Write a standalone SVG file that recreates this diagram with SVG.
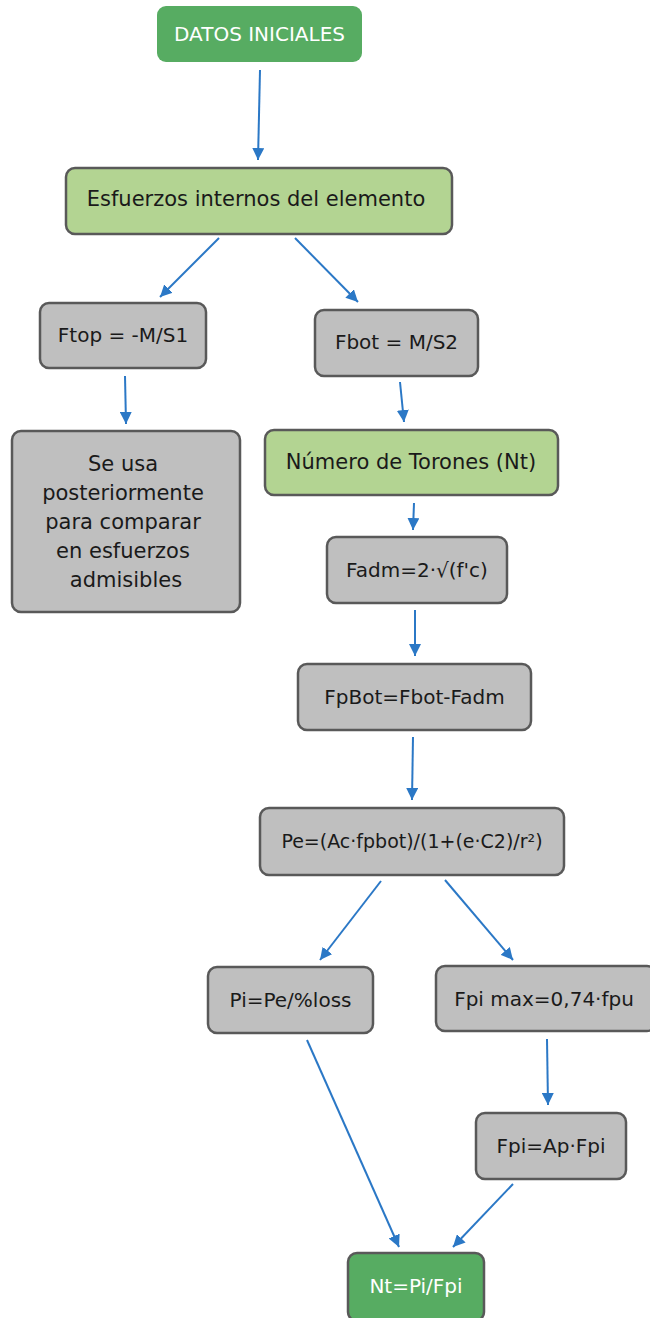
<svg xmlns="http://www.w3.org/2000/svg" width="650" height="1318" viewBox="0 0 650 1318">
  <style>
    .box { stroke: #595959; stroke-width: 2.5; }
    .gray { fill: #BFBFBF; }
    .lime { fill: #B3D492; }
    .green { fill: #57AC62; }
    .lbl { font-family: "DejaVu Sans", "Open Sans", sans-serif; font-size: 20px; fill: #1A1A1A; text-anchor: middle; }
    .big { font-size: 21px; }
    .wlbl { font-family: "DejaVu Sans", "Open Sans", sans-serif; font-size: 20px; fill: #FFFFFF; text-anchor: middle; }
    .edge { stroke: #2B78C6; stroke-width: 2; fill: none; marker-end: url(#arrow); }
  </style>
  <defs>
    <marker id="arrow" viewBox="0 0 10 10" refX="10" refY="5" markerWidth="6" markerHeight="6" orient="auto" markerUnits="strokeWidth">
      <path d="M0,0 L10,5 L0,10 z" fill="#2B78C6"/>
    </marker>
  </defs>
  <rect width="650" height="1318" fill="#FFFFFF"/>

  <g id="connectors">
    <line class="edge" x1="260" y1="70" x2="258" y2="160"/>
    <line class="edge" x1="219" y1="238" x2="160" y2="297"/>
    <line class="edge" x1="295" y1="238" x2="358" y2="302"/>
    <line class="edge" x1="125" y1="376" x2="126" y2="424"/>
    <line class="edge" x1="400" y1="382" x2="404" y2="422"/>
    <line class="edge" x1="414" y1="503" x2="413" y2="530"/>
    <line class="edge" x1="415" y1="610" x2="415" y2="656"/>
    <line class="edge" x1="413" y1="737" x2="412" y2="800"/>
    <line class="edge" x1="381" y1="881" x2="320" y2="960"/>
    <line class="edge" x1="445" y1="880" x2="513" y2="960"/>
    <line class="edge" x1="547" y1="1039" x2="548" y2="1105"/>
    <line class="edge" x1="307" y1="1040" x2="399" y2="1247"/>
    <line class="edge" x1="513" y1="1184" x2="453" y2="1247"/>
  </g>

  <g id="datos-iniciales">
    <rect class="green" x="157" y="6" width="205" height="56" rx="9"/>
    <text class="wlbl" x="259.5" y="41">DATOS INICIALES</text>
  </g>

  <g id="esfuerzos-internos">
    <rect class="box lime" x="66" y="168" width="386" height="66" rx="9"/>
    <text class="lbl big" x="256" y="206">Esfuerzos internos del elemento</text>
  </g>

  <g id="ftop">
    <rect class="box gray" x="40" y="303" width="166" height="65" rx="9"/>
    <text class="lbl" x="123" y="342">Ftop = -M/S1</text>
  </g>

  <g id="fbot">
    <rect class="box gray" x="315" y="310" width="163" height="66" rx="9"/>
    <text class="lbl" x="396.5" y="349">Fbot = M/S2</text>
  </g>

  <g id="se-usa">
    <rect class="box gray" x="12" y="431" width="228" height="181" rx="9"/>
    <text class="lbl big" x="123" y="471">Se usa</text>
    <text class="lbl big" x="123" y="500">posteriormente</text>
    <text class="lbl big" x="123" y="529">para comparar</text>
    <text class="lbl big" x="123" y="558">en esfuerzos</text>
    <text class="lbl big" x="126" y="587">admisibles</text>
  </g>

  <g id="numero-torones">
    <rect class="box lime" x="265" y="430" width="293" height="65" rx="9"/>
    <text class="lbl big" x="411" y="469">Número de Torones (Nt)</text>
  </g>

  <g id="fadm">
    <rect class="box gray" x="327" y="537" width="180" height="66" rx="9"/>
    <text class="lbl" x="417" y="577">Fadm=2·√(f'c)</text>
  </g>

  <g id="fpbot">
    <rect class="box gray" x="298" y="664" width="233" height="66" rx="9"/>
    <text class="lbl" x="414.5" y="704">FpBot=Fbot-Fadm</text>
  </g>

  <g id="pe">
    <rect class="box gray" x="260" y="808" width="304" height="67" rx="9"/>
    <text class="lbl" x="412" y="848" style="font-size:19px">Pe=(Ac·fpbot)/(1+(e·C2)/r²)</text>
  </g>

  <g id="pi">
    <rect class="box gray" x="208" y="967" width="165" height="66" rx="9"/>
    <text class="lbl" x="290.5" y="1007">Pi=Pe/%loss</text>
  </g>

  <g id="fpi-max">
    <rect class="box gray" x="436" y="966" width="220" height="65" rx="9"/>
    <text class="lbl" x="544" y="1006">Fpi max=0,74·fpu</text>
  </g>

  <g id="fpi">
    <rect class="box gray" x="476" y="1113" width="150" height="66" rx="9"/>
    <text class="lbl" x="551" y="1153">Fpi=Ap·Fpi</text>
  </g>

  <g id="nt">
    <rect class="box green" x="348" y="1253" width="136" height="68" rx="9"/>
    <text class="wlbl" x="416" y="1293">Nt=Pi/Fpi</text>
  </g>
</svg>
